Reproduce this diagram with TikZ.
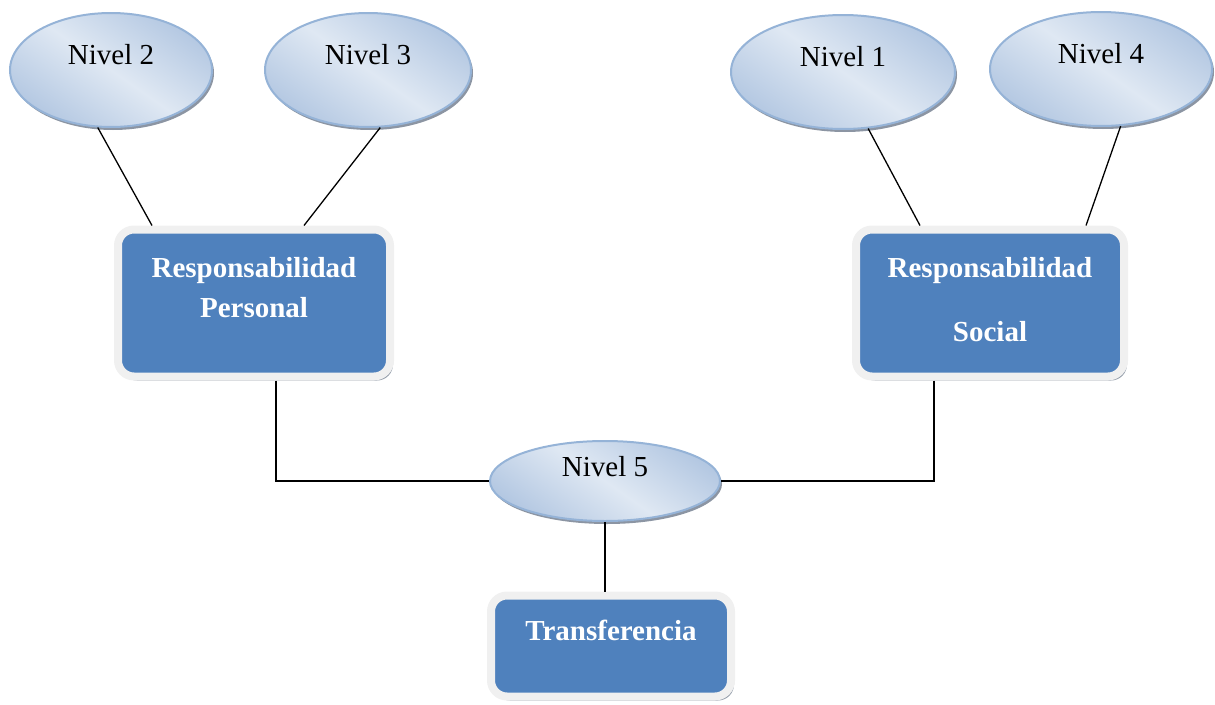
\documentclass[tikz,border=0pt]{standalone}
\usepackage{fontspec}
\setmainfont{Liberation Serif}
\usetikzlibrary{shapes.geometric,shadows,calc}
\definecolor{ellborder}{HTML}{95B3D7}
\definecolor{elldark}{HTML}{B4C8E2}
\definecolor{elllight}{HTML}{DFE8F3}
\definecolor{boxblue}{HTML}{4F81BD}
\definecolor{boxframe}{HTML}{F0F0F0}
\definecolor{shadowcol}{HTML}{7F8A99}
\begin{document}
\begin{tikzpicture}[x=1pt,y=-1pt,
  ell/.style={ellipse, draw=ellborder, line width=2pt,
    top color=elldark, bottom color=elldark, middle color=elllight, shading angle=-35,
    minimum width=202pt, minimum height=114pt, inner sep=0pt,
    drop shadow={shadow xshift=2pt, shadow yshift=-3pt, fill=shadowcol, opacity=0.9}},
  ellfont/.style={font=\fontsize{29}{34}\selectfont, text=black},
  bbox/.style={rectangle, rounded corners=16pt, fill=boxblue, draw=boxframe, line width=8pt, inner sep=0pt,
    drop shadow={shadow xshift=3pt, shadow yshift=-4pt, fill=shadowcol, opacity=0.85}},
  boxfont/.style={font=\fontsize{29}{40}\selectfont\bfseries, text=white, align=center},
  conn/.style={line width=1.3pt, black}]
\useasboundingbox (0,0) rectangle (1215,704);

\node[ell, label={[ellfont, yshift=15pt]center:Nivel 2}] (n2) at (111,70) {};
\node[ell, minimum width=206pt, label={[ellfont, yshift=15pt]center:Nivel 3}] (n3) at (368,70) {};
\node[ell, minimum width=224pt, label={[ellfont, yshift=15pt]center:Nivel 1}] (n1) at (843,72) {};
\node[ell, minimum width=222pt, label={[ellfont, yshift=15pt]center:Nivel 4}] (n4) at (1101,69) {};
\node[ell, minimum width=230pt, minimum height=80pt, label={[ellfont, yshift=14pt]center:Nivel 5}] (n5) at (605,481) {};

\node[bbox, minimum width=272pt, minimum height=147pt,
  label={[boxfont, yshift=15pt]center:Responsabilidad\\Personal}] (rp) at (254,303) {};
\node[bbox, minimum width=268pt, minimum height=147pt,
  label={[boxfont, yshift=3pt]center:Responsabilidad\\[24pt]Social}] (rs) at (990,303) {};
\node[bbox, minimum width=240pt, minimum height=101pt,
  label={[boxfont, yshift=16pt]center:Transferencia}] (tr) at (611,646) {};

\draw[conn] (n2.-103) -- ([xshift=-102pt]rp.north);
\draw[conn] (n3.-78) -- ([xshift=50pt]rp.north);
\draw[conn] (n1.-66) -- ([xshift=-70pt]rs.north);
\draw[conn] (n4.-71) -- ([xshift=96pt]rs.north);
\draw[conn] ([xshift=22pt]rp.south) |- (n5.west);
\draw[conn] ([xshift=-56pt]rs.south) |- (n5.east);
\draw[conn] (n5.south) -- (n5.south |- tr.north);
\end{tikzpicture}
\end{document}
